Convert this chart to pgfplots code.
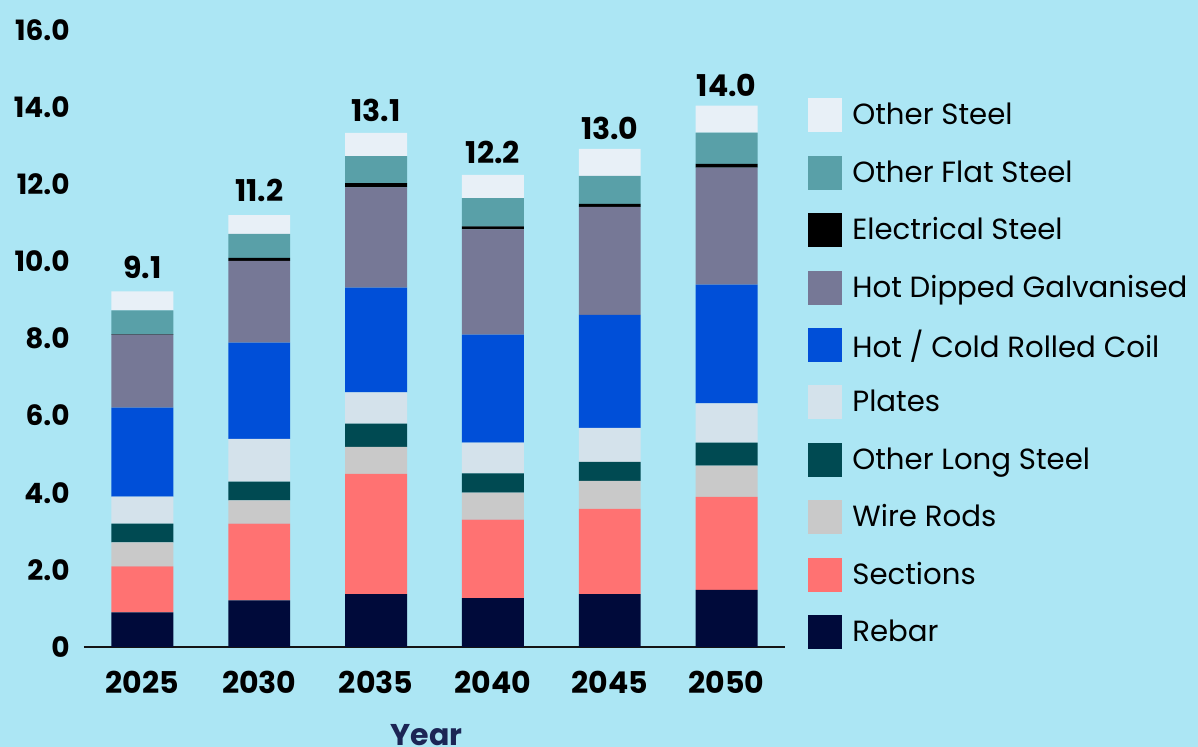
\documentclass[border=0pt]{standalone}
\usepackage{fontspec}
\setmainfont{Poppins}
\usepackage{pgfplots}
\usepackage{pgfplotstable}
\pgfplotsset{compat=1.18}
\definecolor{bg}{RGB}{172,230,244}
\definecolor{cOS}{RGB}{232,240,247}
\definecolor{cOFS}{RGB}{89,160,168}
\definecolor{cEl}{RGB}{0,0,0}
\definecolor{cHDG}{RGB}{118,120,150}
\definecolor{cHRC}{RGB}{0,79,216}
\definecolor{cPl}{RGB}{212,226,235}
\definecolor{cOLS}{RGB}{0,74,82}
\definecolor{cWR}{RGB}{201,201,201}
\definecolor{cSec}{RGB}{255,114,114}
\definecolor{cReb}{RGB}{0,10,58}
\definecolor{cYear}{RGB}{28,37,85}

\pgfplotstableread{
x Rebar Sections Wire OLS Plates HRC HDG Elec OFS OS label
0 0.90 1.19 0.62 0.49 0.70 2.31 1.89 0.01 0.62 0.49 9.1
1 1.21 1.99 0.60 0.49 1.11 2.49 2.12 0.08 0.62 0.49 11.2
2 1.37 3.12 0.70 0.60 0.81 2.72 2.60 0.11 0.70 0.60 13.1
3 1.27 2.03 0.70 0.50 0.80 2.80 2.73 0.08 0.73 0.60 12.2
4 1.37 2.21 0.73 0.49 0.88 2.93 2.80 0.08 0.73 0.70 13.0
5 1.48 2.41 0.81 0.60 1.02 3.08 3.03 0.10 0.81 0.70 14.0
}\datatable

\begin{document}
\begin{tikzpicture}
\fill[bg] (-42pt,-50pt) rectangle (557pt,323.5pt);
\begin{axis}[
  at={(0,0)}, anchor=south west,
  scale only axis, width=350.5pt, height=308.5pt,
  ybar stacked, bar width=0.53,
  xmin=-0.5, xmax=5.5, ymin=0, ymax=16,
  xtick={0,...,5}, xticklabels={2025,2030,2035,2040,2045,2050},
  ytick={0,2,...,16}, yticklabels={0,2.0,4.0,6.0,8.0,10.0,12.0,14.0,16.0},
  axis x line*=bottom, axis y line*=left,
  x axis line style={draw={rgb,255:red,20;green,20;blue,20}, line width=0.9pt, -},
  y axis line style={draw=none},
  major tick length=0pt,
  xticklabel style={font=\bfseries\fontsize{15}{15}\selectfont, inner sep=0pt, anchor=north, yshift=-12pt},
  yticklabel style={font=\bfseries\fontsize{14}{14}\selectfont, inner sep=0pt, anchor=east, xshift=-7pt},
  xlabel={Year},
  xlabel style={at={(axis description cs:0.5,0)}, anchor=base, yshift=-49.5pt, xshift=-4pt, font=\bfseries\fontsize{15}{15}\selectfont, text=cYear, inner sep=0pt},
  every axis plot/.append style={draw=none, legend image code/.code={\fill[##1,draw=none] (0pt,-8.5pt) rectangle (17pt,8.5pt);}},
  reverse legend=true,
  legend cell align=left,
  legend style={at={(1.0328,0.8898)}, anchor=north west, draw=none, fill=none, inner sep=0pt,
    row sep=11.7pt, column sep=5pt, font=\fontsize{14.6}{14.6}\selectfont,
    nodes={inner sep=0pt, anchor=west}},
]
\addplot[fill=cReb] table[x=x,y=Rebar]{\datatable};
\addlegendentry{Rebar}
\addplot[fill=cSec] table[x=x,y=Sections]{\datatable};
\addlegendentry{Sections}
\addplot[fill=cWR] table[x=x,y=Wire]{\datatable};
\addlegendentry{Wire Rods}
\addplot[fill=cOLS] table[x=x,y=OLS]{\datatable};
\addlegendentry{Other Long Steel}
\addplot[fill=cPl] table[x=x,y=Plates]{\datatable};
\addlegendentry{Plates}
\addplot[fill=cHRC] table[x=x,y=HRC]{\datatable};
\addlegendentry{Hot / Cold Rolled Coil}
\addplot[fill=cHDG] table[x=x,y=HDG]{\datatable};
\addlegendentry{Hot Dipped Galvanised}
\addplot[fill=cEl] table[x=x,y=Elec]{\datatable};
\addlegendentry{Electrical Steel}
\addplot[fill=cOFS] table[x=x,y=OFS]{\datatable};
\addlegendentry{Other Flat Steel}
\addplot[fill=cOS, nodes near coords, point meta=explicit symbolic,
  every node near coord/.append style={font=\bfseries\fontsize{15}{15}\selectfont, text=black, inner sep=0pt, anchor=south, yshift=11pt}]
  table[x=x,y=OS,meta=label]{\datatable};
\addlegendentry{Other Steel}
\end{axis}
\pgfresetboundingbox
\useasboundingbox (-42pt,-50pt) rectangle (557pt,323.5pt);
\end{tikzpicture}
\end{document}
